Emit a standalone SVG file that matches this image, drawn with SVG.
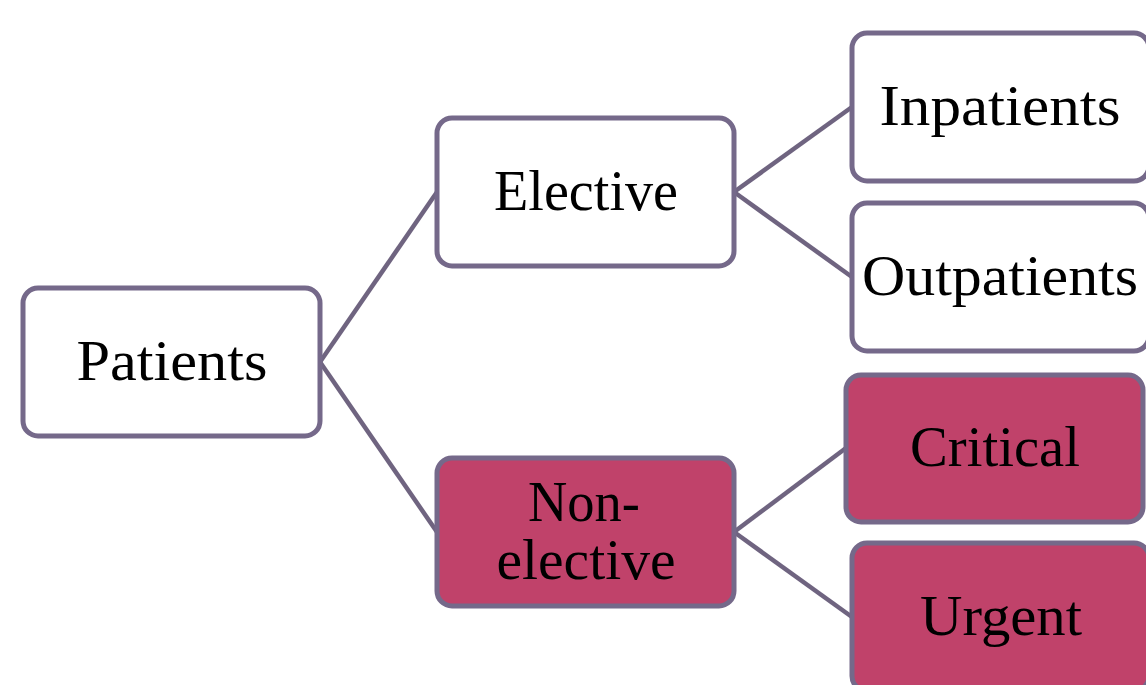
<svg xmlns="http://www.w3.org/2000/svg" width="1146" height="685" viewBox="0 0 1146 685">
<style>
.box{stroke:#75698a;stroke-width:5;}
.w{fill:#ffffff;}
.r{fill:#c0426a;}
.t{font-family:"Liberation Serif","DejaVu Serif",serif;font-size:56px;fill:#000;text-anchor:middle;}
.c{stroke:#6f6480;stroke-width:4.5;fill:none;}
</style>
<rect width="1146" height="685" fill="#ffffff"/>
<g id="connectors">
<line class="c" x1="320" y1="362" x2="437" y2="192"/>
<line class="c" x1="320" y1="362" x2="437" y2="532"/>
<line class="c" x1="734" y1="192" x2="852" y2="107"/>
<line class="c" x1="734" y1="192" x2="852" y2="277"/>
<line class="c" x1="734" y1="532" x2="846" y2="448"/>
<line class="c" x1="734" y1="532" x2="852" y2="617"/>
</g>
<g id="patients">
<rect class="box w" x="23" y="288" width="297" height="148" rx="15"/>
<text class="t" x="172" y="380" textLength="191" lengthAdjust="spacingAndGlyphs">Patients</text>
</g>
<g id="elective">
<rect class="box w" x="437" y="118" width="297" height="148" rx="15"/>
<text class="t" x="586" y="210" textLength="184" lengthAdjust="spacingAndGlyphs">Elective</text>
</g>
<g id="nonelective">
<rect class="box r" x="437" y="458" width="297" height="148" rx="15"/>
<text class="t" x="584" y="521" textLength="112" lengthAdjust="spacingAndGlyphs">Non-</text>
<text class="t" x="586" y="579" textLength="179" lengthAdjust="spacingAndGlyphs">elective</text>
</g>
<g id="inpatients">
<rect class="box w" x="852" y="33" width="297" height="148" rx="15"/>
<text class="t" x="1000" y="125" textLength="241" lengthAdjust="spacingAndGlyphs">Inpatients</text>
</g>
<g id="outpatients">
<rect class="box w" x="852" y="203" width="297" height="148" rx="15"/>
<text class="t" x="1000" y="295" textLength="276" lengthAdjust="spacingAndGlyphs">Outpatients</text>
</g>
<g id="critical">
<rect class="box r" x="846" y="375" width="297" height="147" rx="15"/>
<text class="t" x="995" y="466" textLength="170" lengthAdjust="spacingAndGlyphs">Critical</text>
</g>
<g id="urgent">
<rect class="box r" x="852" y="543" width="297" height="148" rx="15"/>
<text class="t" x="1001" y="635" textLength="162" lengthAdjust="spacingAndGlyphs">Urgent</text>
</g>
</svg>
